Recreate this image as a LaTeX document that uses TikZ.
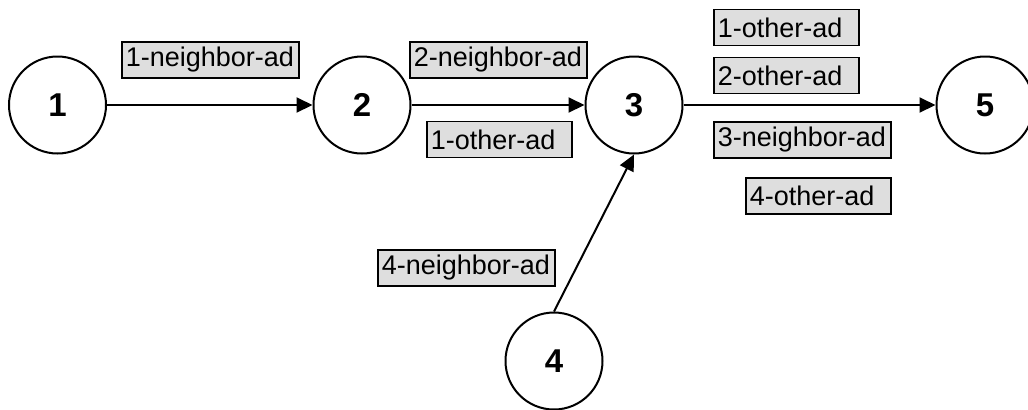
\documentclass[tikz,border=0pt]{standalone}
\usepackage{fontspec}
\setmainfont{Liberation Sans}
\usetikzlibrary{arrows.meta}
\definecolor{adgray}{RGB}{222,222,222}

\begin{document}
\begin{tikzpicture}[x=0.5pt,y=-0.5pt]
\tikzstyle{state}=[draw=black,circle,line width=1pt,minimum size=48.5pt,inner sep=0pt,font=\fontsize{16.5}{16.5}\selectfont\bfseries]
\tikzstyle{ad}=[draw=black,fill=adgray,line width=0.9pt,anchor=west,inner xsep=2pt,inner ysep=0pt,minimum height=18pt,align=left,font=\fontsize{13.5}{14}\selectfont]
\tikzstyle{nbad}=[ad,text width=84.5pt]
\tikzstyle{otad}=[ad,text width=68.5pt]
\tikzstyle{link}=[draw=black,line width=1pt,-{Triangle[length=8pt,width=7.5pt]}]
\useasboundingbox (0,0) rectangle (1028,409);
% states
\node [state] (s1) at (57.5,105) {1};
\node [state] (s2) at (362,105) {2};
\node [state] (s3) at (634,105) {3};
\node [state] (s4) at (554,361) {4};
\node [state] (s5) at (985,105) {5};
% links
\draw [link] (s1) -- (s2);
\draw [link] (s2) -- (s3);
\draw [link] (s3) -- (s5);
\draw [link] (s4.north) -- (s3.south);
% adverts
\node [nbad] (nb1) at (121,60) {1-neighbor-ad};
\node [nbad] (nb2) at (409,60) {2-neighbor-ad};
\node [otad] (ot1a) at (426,139.5) {1-other-ad};
\node [nbad] (nb4) at (377,268) {4-neighbor-ad};
\node [otad] (ot1b) at (713,27.5) {1-other-ad};
\node [otad] (ot2) at (713,75.5) {2-other-ad};
\node [nbad] (nb3) at (713,140) {3-neighbor-ad};
\node [otad] (ot4) at (745,196) {4-other-ad};
\end{tikzpicture}
\end{document}
